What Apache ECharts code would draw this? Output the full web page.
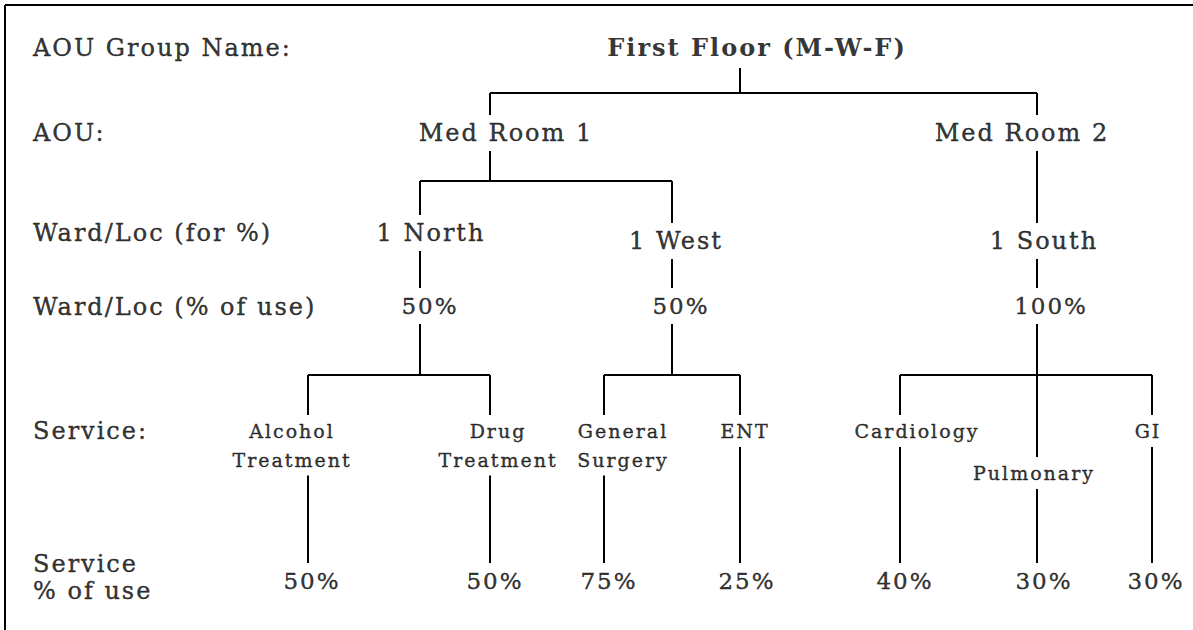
<!DOCTYPE html>
<html>
<head>
<meta charset="utf-8">
<script src="https://cdn.jsdelivr.net/npm/echarts@6/dist/echarts.min.js"></script>
<style>
html,body{margin:0;padding:0;background:#fff;}
#chart{width:1193px;height:630px;}
#chart text{letter-spacing:2px;}
</style>
</head>
<body>
<div id="chart"></div>
<script>
// ---------- DATA ----------
const rowLabels = ['AOU Group Name:', 'AOU:', 'Ward/Loc (for %)', 'Ward/Loc (% of use)', 'Service:', 'Service\n% of use'];
const groupName = 'First Floor (M-W-F)';
const aouNames = ['Med Room 1', 'Med Room 2'];
const wardNames = ['1 North', '1 West', '1 South'];
const wardParent = [0, 0, 1];
const wardPct = [50, 50, 100];
const serviceNames = ['Alcohol\nTreatment', 'Drug\nTreatment', 'General\nSurgery', 'ENT', 'Cardiology', 'Pulmonary', 'GI'];
const serviceParent = [0, 0, 1, 1, 2, 2, 2];
const servicePct = [50, 50, 75, 25, 40, 30, 30];

// ---------- LAYOUT (positions / styles only) ----------
const W = 1193, H = 630;
const frame = { x: 5, y: 5 };
const rowLabelX = 33;
const rowLabelY = [47.5, 133, 233, 307, 431, 577];
const rowLabelLH = 27;
const root = { lineX: 740, textX: 757, y: 47.5, lineTop: 68 };
const barY = [93, 181, 375];
const aouLineX = [490, 1037], aouTextX = [506, 1022], aouY = 133;
const wardLineX = [420, 672, 1037], wardTextX = [431, 676, 1044], wardY = [233, 241, 241];
const wardPctTextX = [430, 681, 1051], wardPctY = 306;
const serviceLineX = [308, 490, 604, 740, 900, 1037, 1152];
const serviceTextX = [292, 498, 623, 745, 917, 1034, 1148];
const serviceY = [431, 431, 431, 431, 431, 473, 431];   // first line centre
const serviceLH = 28.5;
const servicePctX = [312, 495, 609, 747, 905, 1044, 1156], servicePctY = 581;

const FONT = 'DejaVu Serif';
const mainFont = 24, pctFont = 23, smallFont = 19, titleFont = 24;
const capMain = 9, capSmall = 7, gap = 9;
const lineW = 2;

// ---------- BUILD ----------
const segs = [];
function seg(x1, y1, x2, y2) { segs.push({ coords: [[x1, y1], [x2, y2]] }); }
seg(frame.x, frame.y, W, frame.y);
seg(frame.x, frame.y, frame.x, H);

function connect(px, pBot, by, kids) { // kids: [{x, top}]
  if (kids.length === 1 && kids[0].x === px) { seg(px, pBot, px, kids[0].top); return; }
  seg(px, pBot, px, by);
  const xs = kids.map(k => k.x).concat([px]);
  seg(Math.min(...xs), by, Math.max(...xs), by);
  kids.forEach(k => seg(k.x, by, k.x, k.top));
}
const aouNodes = aouNames.map((_, i) => ({ x: aouLineX[i], top: aouY - capMain - gap, bot: aouY + capMain + gap }));
const wardNodes = wardNames.map((_, i) => ({ x: wardLineX[i], top: wardY[i] - capMain - gap, bot: wardY[i] + capMain + gap }));
const wardPctNodes = wardPct.map((_, i) => ({ x: wardLineX[i], top: wardPctY - capMain - gap, bot: wardPctY + capMain + gap }));
const serviceNodes = serviceNames.map((t, i) => {
  const n = t.split('\n').length;
  return { x: serviceLineX[i], top: serviceY[i] - capSmall - gap, bot: serviceY[i] + (n - 1) * serviceLH + capSmall + gap };
});
const pctTop = servicePctY - capMain - gap;

connect(root.lineX, root.lineTop, barY[0], aouNodes);
aouNodes.forEach((a, ai) => connect(a.x, a.bot, barY[1], wardNodes.filter((_, w) => wardParent[w] === ai)));
wardNodes.forEach((w, wi) => {
  seg(w.x, w.bot, w.x, wardPctNodes[wi].top);
  connect(w.x, wardPctNodes[wi].bot, barY[2], serviceNodes.filter((_, s) => serviceParent[s] === wi));
});
serviceNodes.forEach(s => seg(s.x, s.bot, s.x, pctTop));

const texts = [];
function txt(x, y, text, opt) {
  opt = opt || {};
  const size = opt.size || mainFont;
  texts.push({
    value: [x, y],
    label: {
      show: true, position: 'inside', formatter: text,
      fontFamily: FONT, fontSize: size, fontWeight: opt.bold ? 'bold' : 'normal',
      color: '#000', align: opt.align || 'center', verticalAlign: 'middle',
      textBorderColor: '#000', textBorderWidth: opt.bold ? 0 : 0.4,
      lineHeight: opt.lh || Math.round(size * 1.2)
    }
  });
}
rowLabels.forEach((t, i) => txt(rowLabelX, rowLabelY[i], t, { align: 'left', lh: rowLabelLH }));
txt(root.textX, root.y, groupName, { bold: true, size: titleFont });
aouNames.forEach((t, i) => txt(aouTextX[i], aouY, t));
wardNames.forEach((t, i) => txt(wardTextX[i], wardY[i], t));
wardPct.forEach((v, i) => txt(wardPctTextX[i], wardPctY, v + '%', { size: pctFont }));
serviceNames.forEach((t, i) => {
  const n = t.split('\n').length;
  txt(serviceTextX[i], serviceY[i] + (n - 1) * serviceLH / 2, t, { size: smallFont, lh: serviceLH });
});
servicePct.forEach((v, i) => txt(servicePctX[i], servicePctY, v + '%', { size: pctFont }));

const chart = echarts.init(document.getElementById('chart'), null, { renderer: 'svg' });
chart.setOption({
  animation: false,
  backgroundColor: '#fff',
  grid: { left: 0, right: 0, top: 0, bottom: 0 },
  xAxis: { type: 'value', min: 0, max: W, show: false },
  yAxis: { type: 'value', min: 0, max: H, inverse: true, show: false },
  series: [
    { type: 'lines', coordinateSystem: 'cartesian2d', silent: true, z: 1,
      lineStyle: { color: '#000', width: lineW, opacity: 1, curveness: 0 }, data: segs },
    { type: 'scatter', silent: true, z: 3, symbolSize: 0, data: texts }
  ]
});
</script>
</body>
</html>
